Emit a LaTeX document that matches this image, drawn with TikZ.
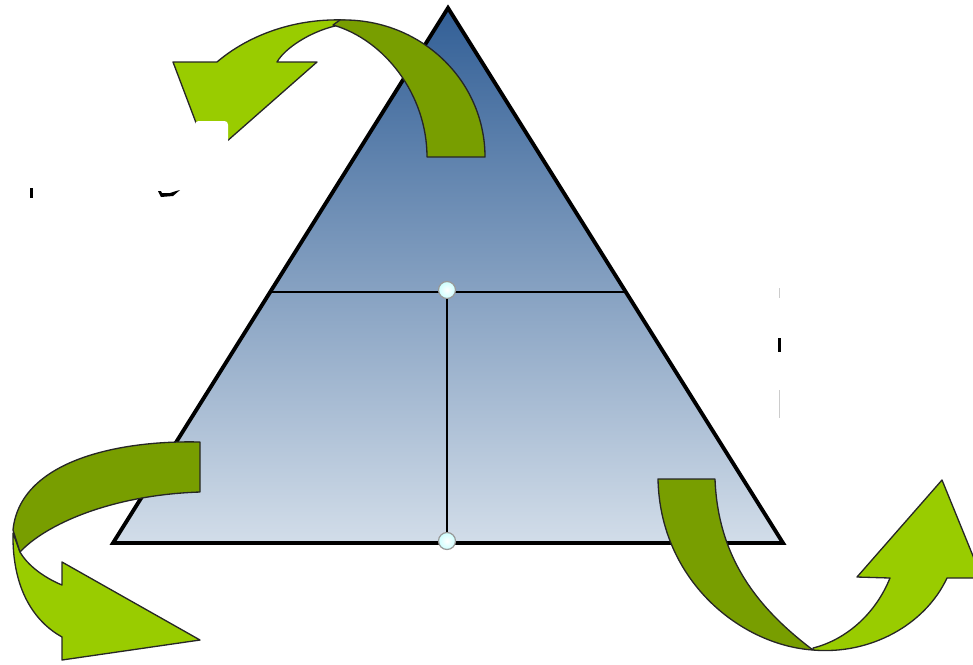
\documentclass[tikz,border=0pt]{standalone}
\usepackage{tikz}
\usetikzlibrary{positioning, calc}

\definecolor{leafgreen}{HTML}{99CC00}
\definecolor{olivegreen}{HTML}{789E00}
\definecolor{pyrtop}{RGB}{50,95,150}
\definecolor{pyrmid}{RGB}{165,180,204}
\definecolor{pyrbot}{RGB}{210,221,233}

\begin{document}
\begin{tikzpicture}[
	x=0.02cm, y=-0.02cm,
	pyramid/.style={draw=black, line width=2.2pt, line join=miter, top color=pyrtop, middle color=pyrmid, bottom color=pyrbot},
	divider/.style={draw=black, line width=1pt},
	frontband/.style={fill=leafgreen, draw=black!85, line width=0.75pt, line join=round},
	backband/.style={fill=olivegreen, draw=black!85, line width=0.75pt, line join=round},
	handle/.style={circle, draw=gray!80, line width=0.7pt, inner color=white, outer color=cyan!20!white, minimum size=0.34cm, inner sep=0pt},
	stray/.style={fill=black}
]
\clip (0,0) rectangle (973,664);

% pyramid with its two dividing lines
\coordinate (apex) at (448,8);
\coordinate (baseL) at (113,543);
\coordinate (baseR) at (783,543);
\coordinate (midL) at (272,292);
\coordinate (midR) at (625,292);
\shade[pyramid] (apex) -- (baseR) -- (baseL) -- cycle;
\draw[divider] (midL) -- (midR);
\node[handle] (hTop) at (447,290) {};
\node[handle] (hBot) at (447,541) {};
\draw[divider] (hTop) -- (hBot);

% top arrow
\draw[frontband] (217,62) .. controls (245,38) and (290,18) .. (345,20)
	-- (335,26) .. controls (310,32) and (285,48) .. (277,62)
	-- (317,62) -- (209,157) -- (173,62) -- cycle;
\draw[backband] (333,25) -- (340,20) .. controls (420,18) and (485,80) .. (485,157)
	-- (427,157) .. controls (427,95) and (385,40) .. (333,25) -- cycle;
\fill[white, rounded corners=2pt] (195,175) -- (195,121) -- (228,121) -- (228,175) -- cycle;

% bottom left arrow
\draw[frontband] (13,533) .. controls (12,590) and (35,622) .. (62,637)
	-- (62,660) -- (200,640) -- (62,562) -- (62,585)
	.. controls (45,578) and (28,566) .. (20,552) -- cycle;
\draw[backband] (200,442) .. controls (120,440) and (20,460) .. (13,530)
	-- (20,552) .. controls (45,525) and (110,495) .. (200,492) -- cycle;

% bottom right arrow
\draw[frontband] (813,650) .. controls (870,655) and (925,625) .. (947,578)
	-- (982,578) -- (942,480) -- (857,577) -- (890,578)
	.. controls (875,615) and (845,640) .. (813,648) -- cycle;
\draw[backband] (658,479) .. controls (660,580) and (740,645) .. (813,650)
	.. controls (760,610) and (718,560) .. (715,479) -- cycle;

% leftover marks
\fill[stray] (30,188) rectangle (33,198);
\fill[stray] (158,191) -- (161,197) -- (173,196) -- (180,190) -- (176,191) -- (170,193) -- (162,193) -- (161,191) -- cycle;
\fill[stray] (778,338) rectangle (781,352);
\draw[gray!40, line width=0.4pt] (779,288) -- (779,298);
\draw[gray!40, line width=0.4pt] (779,390) -- (779,418);

\end{tikzpicture}
\end{document}
